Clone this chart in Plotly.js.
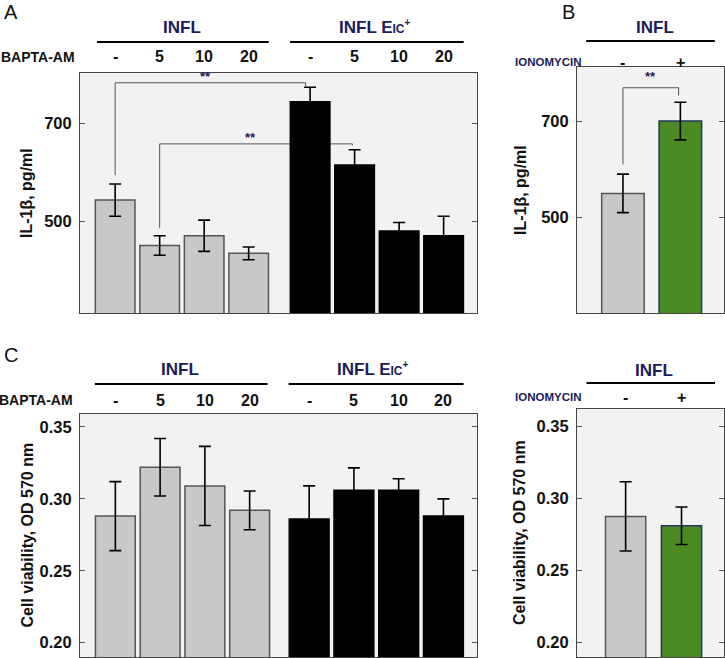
<!DOCTYPE html>
<html>
<head>
<meta charset="utf-8">
<script src="https://cdn.plot.ly/plotly-3.0.1.min.js"></script>
<style>html,body{margin:0;padding:0;background:#fff;}#chart{width:725px;height:658px;}</style>
</head>
<body>
<div id="chart"></div>
<script>
// ---------- data ----------
const doseLabels = ['-', '5', '10', '20'];
const ionoLabels = ['-', '+'];
const groupLabels = ['INFL', 'INFL E<span style="font-size:12px">IC</span><sup><span style="font-size:10px">+</span></sup>'];

const il1bInfl = [543, 450, 470, 434];
const il1bInflErr = [33, 20, 32, 13];
const il1bEic = [744, 615, 480, 470];
const il1bEicErr = [30, 31, 17, 40];

const il1bIono = [550, 700];
const il1bIonoErr = [40, 39];

const viabInfl = [0.288, 0.322, 0.309, 0.292];
const viabInflErr = [0.024, 0.020, 0.0275, 0.0135];
const viabEic = [0.286, 0.306, 0.306, 0.288];
const viabEicErr = [0.023, 0.0155, 0.008, 0.012];

const viabIono = [0.2875, 0.281];
const viabIonoErr = [0.024, 0.013];

// ---------- layout helpers ----------
const W = 725, H = 658;
const px = x => x / W;
const py = y => 1 - y / H;
const FONT = 'Liberation Sans, Arial, sans-serif';
const NAVY = '#1c1c5a';
const GRAY = '#c8c8c8';
const GREEN = '#4a8c23';

function pos(n, gap) { // bar positions for two groups
  const a = [], b = [];
  for (let i = 0; i < n; i++) { a.push(i); b.push(i + n - 1 + gap); }
  return [a, b];
}
const [xaG, xaB] = pos(4, 1.38);
const [xcG, xcB] = pos(4, 1.33);
const xIono = [0, 1];

function barTrace(x, y, err, fill, outline, xa, ya) {
  return {
    type: 'bar', x: x, y: y, xaxis: xa, yaxis: ya, width: 0.89,
    marker: {color: fill, line: {color: outline, width: 1.5}},
    error_y: {type: 'data', array: err, visible: true, color: '#000', thickness: 1.6, width: 6},
    showlegend: false, hoverinfo: 'skip'
  };
}

const traces = [
  barTrace(xaG, il1bInfl, il1bInflErr, GRAY, '#555', 'x', 'y'),
  barTrace(xaB, il1bEic, il1bEicErr, '#000', '#000', 'x', 'y'),
  Object.assign(barTrace(xIono, il1bIono, il1bIonoErr, [GRAY, GREEN], ['#555', '#24345a'], 'x2', 'y2'), {width: 0.74}),
  barTrace(xcG, viabInfl, viabInflErr, GRAY, '#555', 'x3', 'y3'),
  barTrace(xcB, viabEic, viabEicErr, '#000', '#000', 'x3', 'y3'),
  Object.assign(barTrace(xIono, viabIono, viabIonoErr, [GRAY, GREEN], ['#555', '#24345a'], 'x4', 'y4'), {width: 0.72}),
];

function xax(dom, range) {
  return {domain: dom, range: range, showgrid: false, zeroline: false, showticklabels: false,
          ticks: '', showline: true, mirror: true, linecolor: '#444', linewidth: 1, fixedrange: true};
}
function yax(dom, range, tickvals, fmt, anchor) {
  return {domain: dom, range: range, anchor: anchor, showgrid: false, zeroline: false,
          tickvals: tickvals, tickformat: fmt, ticks: 'inside', ticklen: 5, tickcolor: '#555',
          showline: true, mirror: 'ticks', linecolor: '#444', linewidth: 1,
          tickfont: {family: FONT, size: 16.5, color: '#111', weight: 'bold'},
          ticklabelstandoff: 4, fixedrange: true};
}

const layout = {
  width: W, height: H, margin: {l: 0, r: 0, t: 0, b: 0},
  paper_bgcolor: '#fff', plot_bgcolor: '#f2f2f2', bargap: 0,
  xaxis: Object.assign(xax([px(80), px(477)], [-0.79, 8.13]), {anchor: 'y'}),
  yaxis: yax([py(313), py(73)], [312, 803], [500, 700], 'd', 'x'),
  xaxis2: Object.assign(xax([px(577), px(724)], [-0.8, 1.76]), {anchor: 'y2'}),
  yaxis2: yax([py(313), py(67)], [302, 812], [500, 700], 'd', 'x2'),
  xaxis3: Object.assign(xax([px(80), px(477)], [-0.79, 8.08]), {anchor: 'y3'}),
  yaxis3: yax([py(657), py(414)], [0.19, 0.359], [0.20, 0.25, 0.30, 0.35], '.2f', 'x3'),
  xaxis4: Object.assign(xax([px(577), px(724)], [-0.87, 1.76]), {anchor: 'y4'}),
  yaxis4: yax([py(657), py(409)], [0.19, 0.362], [0.20, 0.25, 0.30, 0.35], '.2f', 'x4'),
  shapes: [],
  annotations: []
};

const S = layout.shapes, A = layout.annotations;
function hline(xref, x0, x1, y) {
  S.push({type: 'line', xref: xref, yref: 'paper', x0: x0, x1: x1, y0: py(y), y1: py(y),
          line: {color: '#000', width: 2}});
}
function txt(text, xref, x, y, size, color, xanchor, extra) {
  A.push(Object.assign({text: text, xref: xref, yref: 'paper', x: x, y: py(y), showarrow: false,
    xanchor: xanchor || 'center', yanchor: 'middle',
    font: {family: FONT, size: size, color: color}}, extra || {}));
}
function bracket(xref, yref, xl, yl, xr, yr, ytop) {
  const l = {color: '#555', width: 1};
  S.push({type: 'path', xref: xref, yref: yref, layer: 'below',
          path: `M ${xl} ${yl} L ${xl} ${ytop} L ${xr} ${ytop} L ${xr} ${yr}`, line: l});
}

// Panel letters
txt('A', 'paper', px(2), 12, 20, '#111', 'left');
txt('B', 'paper', px(560), 12, 20, '#111', 'left');
txt('C', 'paper', px(2), 355, 20, '#111', 'left');

// Panel A headers
txt('<b>' + groupLabels[0] + '</b>', 'x', (xaG[0] + xaG[3]) / 2, 27, 17, NAVY);
txt('<b>' + groupLabels[1] + '</b>', 'x', (xaB[0] + xaB[3]) / 2 - 0.05, 27, 17, NAVY);
hline('x', xaG[0] - 0.41, xaG[3] + 0.45, 42);
hline('x', xaB[0] - 0.45, xaB[3] + 0.45, 42);
txt('<b>BAPTA-AM</b>', 'paper', px(77), 57, 14, '#111', 'right');
doseLabels.forEach((d, i) => {
  txt('<b>' + d + '</b>', 'x', xaG[i], 57, 16, '#111');
  txt('<b>' + d + '</b>', 'x', xaB[i], 57, 16, '#111');
});
// Panel A significance brackets
bracket('x', 'y', xaG[0], 594, xaB[0] - 0.1, 776, 783);
A.push({text: '<b>**</b>', xref: 'x', yref: 'y', x: 2.04, y: 795, showarrow: false,
        font: {family: FONT, size: 13, color: NAVY}});
bracket('x', 'y', xaG[1], 486, xaB[1] - 0.05, 655, 658);
A.push({text: '<b>**</b>', xref: 'x', yref: 'y', x: 3.05, y: 672, showarrow: false,
        font: {family: FONT, size: 13, color: NAVY}});

// Panel B headers
txt('<b>' + groupLabels[0] + '</b>', 'x2', 0.55, 28, 17, NAVY);
hline('x2', -0.64, 1.6, 41);
txt('<b>IONOMYCIN</b>', 'paper', px(583), 62, 11.5, NAVY, 'right');
ionoLabels.forEach((d, i) => txt('<b>' + d + '</b>', 'x2', xIono[i], 62, 16, '#111'));
bracket('x2', 'y2', xIono[0], 610, 0.97, 753, 769);
A.push({text: '<b>**</b>', xref: 'x2', yref: 'y2', x: 0.48, y: 793, showarrow: false,
        font: {family: FONT, size: 13, color: NAVY}});

// Panel C headers
txt('<b>' + groupLabels[0] + '</b>', 'x3', (xcG[0] + xcG[3]) / 2 - 0.05, 369, 17, NAVY);
txt('<b>' + groupLabels[1] + '</b>', 'x3', (xcB[0] + xcB[3]) / 2 - 0.08, 369, 17, NAVY);
hline('x3', xcG[0] - 0.46, xcG[3] + 0.40, 384);
hline('x3', xcB[0] - 0.46, xcB[3] + 0.45, 384);
txt('<b>BAPTA-AM</b>', 'paper', px(75), 400, 14, '#111', 'right');
doseLabels.forEach((d, i) => {
  txt('<b>' + d + '</b>', 'x3', xcG[i], 400, 16, '#111');
  txt('<b>' + d + '</b>', 'x3', xcB[i], 400, 16, '#111');
});

// Panel D headers
txt('<b>' + groupLabels[0] + '</b>', 'x4', 0.5, 370, 17, NAVY);
hline('x4', -0.70, 1.6, 383);
txt('<b>IONOMYCIN</b>', 'paper', px(583), 397, 11.5, NAVY, 'right');
ionoLabels.forEach((d, i) => txt('<b>' + d + '</b>', 'x4', xIono[i], 397, 16, '#111'));

// Y-axis titles
function ytitle(text, x, y0, y1) {
  A.push({text: '<b>' + text + '</b>', xref: 'paper', yref: 'paper', x: px(x), y: (py(y0) + py(y1)) / 2,
          textangle: -90, showarrow: false, xanchor: 'center', yanchor: 'middle',
          font: {family: FONT, size: 16, color: '#111'}});
}
ytitle('IL-1β, pg/ml', 27, 73, 313);
ytitle('IL-1β, pg/ml', 521, 67, 313);
ytitle('Cell viability, OD 570 nm', 27, 414, 657);
ytitle('Cell viability, OD 570 nm', 519, 409, 657);

Plotly.newPlot('chart', traces, layout, {staticPlot: true, displayModeBar: false});
</script>
</body>
</html>
